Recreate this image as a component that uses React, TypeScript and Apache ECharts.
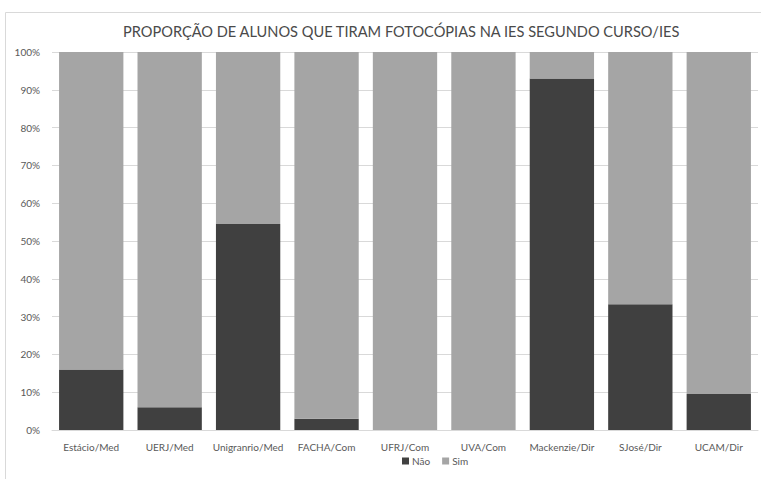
import React, { useEffect, useRef } from "react";
import * as echarts from "echarts";

const categories = ["Estácio/Med", "UERJ/Med", "Unigranrio/Med", "FACHA/Com", "UFRJ/Com", "UVA/Com", "Mackenzie/Dir", "SJosé/Dir", "UCAM/Dir"];
const naoValues = [16, 6, 54.5, 3, 0, 0, 93, 33.3, 9.5];
const simValues = [84, 94, 45.5, 97, 100, 100, 7, 66.7, 90.5];
const titleText = "PROPORÇÃO DE ALUNOS QUE TIRAM FOTOCÓPIAS NA IES SEGUNDO CURSO/IES";

export default function App() {
  const ref = useRef<HTMLDivElement>(null);
  useEffect(() => {
    if (!ref.current) return;
    const chart = echarts.init(ref.current, null, { renderer: "svg" });
    const font = "Lato";
    chart.setOption({
      animation: false,
      backgroundColor: "#ffffff",
      graphic: [
        {
          type: "rect",
          shape: { x: 5.5, y: 12.5, width: 770, height: 480 },
          style: { fill: "none", stroke: "#d9d9d9", lineWidth: 1 },
          silent: true,
        },
      ],
      title: {
        text: titleText,
        left: 118,
        top: 19,
        textStyle: { fontFamily: font, fontSize: 14.6, fontWeight: "normal", color: "#4a4a4a" },
      },
      legend: {
        bottom: 8,
        left: 397,
        itemWidth: 7,
        itemHeight: 7,
        itemGap: 12,
        icon: "rect",
        textStyle: { fontFamily: font, fontSize: 10, color: "#595959", padding: [0, 0, 0, -2] },
        data: ["Não", "Sim"],
      },
      grid: { left: 52, right: 3, top: 52, bottom: 49, containLabel: false },
      xAxis: {
        type: "category",
        data: categories,
        axisLine: { show: true, lineStyle: { color: "#d9d9d9" } },
        axisTick: { show: false },
        axisLabel: { fontFamily: font, fontSize: 10, color: "#595959", margin: 12, interval: 0 },
      },
      yAxis: {
        type: "value",
        min: 0,
        max: 100,
        interval: 10,
        axisLine: { show: false },
        axisTick: { show: false },
        axisLabel: { fontFamily: font, fontSize: 10, color: "#595959", margin: 12, formatter: "{value}%" },
        splitLine: { lineStyle: { color: "#d9d9d9" } },
      },
      series: [
        {
          name: "Não",
          type: "bar",
          stack: "total",
          data: naoValues,
          barCategoryGap: "18%",
          itemStyle: { color: "#404040" },
        },
        {
          name: "Sim",
          type: "bar",
          stack: "total",
          data: simValues,
          barCategoryGap: "18%",
          itemStyle: { color: "#a5a5a5" },
        },
      ],
    });
    return () => chart.dispose();
  }, []);
  return <div ref={ref} style={{ position: "fixed", left: 0, top: 0, width: 761, height: 479 }} />;
}
